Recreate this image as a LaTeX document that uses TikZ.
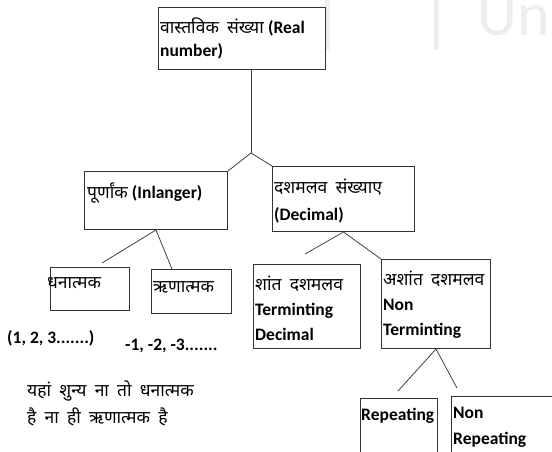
\documentclass[tikz,border=0pt]{standalone}
\usepackage{fontspec}
\setmainfont{Carlito}
\newfontfamily\hin[Script=Devanagari,WordSpace=1.8]{Noto Sans}
\usepackage{tikz}

\begin{document}
\begin{tikzpicture}[x=1pt,y=-1pt,
        box/.style={draw=black!80,line width=1pt,anchor=north west,inner sep=0pt},
        lbl/.style={anchor=base west,inner sep=0pt,align=left,font=\fontsize{17.5}{24}\selectfont},
        link/.style={draw=black!75,line width=0.8pt}]
        \useasboundingbox (0,0) rectangle (552,452);
        % faint mark in the corner
        \draw (328,-12) node(wm1)[anchor=north,text=black!7,font=\fontsize{66}{66}\selectfont]{|};
        \draw (437,-12) node(wm2)[anchor=north,text=black!7,font=\fontsize{66}{66}\selectfont]{|};
        \draw (474,-8) node(wm3)[anchor=north west,text=black!7,font=\fontsize{62}{62}\selectfont]{Un};
        % boxes
        \draw (158,7) node(real)[box,minimum width=167pt,minimum height=62pt]{};
        \draw (84,171) node(int)[box,minimum width=143pt,minimum height=58pt]{};
        \draw (272,166) node(dec)[box,minimum width=142pt,minimum height=65pt]{};
        \draw (50,267) node(pos)[box,minimum width=79pt,minimum height=43pt]{};
        \draw (151,269) node(neg)[box,minimum width=80pt,minimum height=44pt]{};
        \draw (253,264) node(term)[box,minimum width=107pt,minimum height=84pt]{};
        \draw (381,259) node(nterm)[box,minimum width=109pt,minimum height=89pt]{};
        \draw (360,398) node(rep)[box,minimum width=77pt,minimum height=56pt]{};
        \draw (451,396) node(nrep)[box,minimum width=103pt,minimum height=58pt]{};
        % texts (anchored at the last line)
        \draw (160,57) node(t1)[lbl]{{\hin वास्तविक संख्या} \textbf{(Real}\\\textbf{number)}};
        \draw (87,198) node(t2)[lbl]{{\hin पूर्णांक} \textbf{(Inlanger)}};
        \draw (274,220) node(t3)[lbl,font=\fontsize{17.5}{27}\selectfont]{{\hin दशमलव संख्याए}\\\textbf{(Decimal)}};
        \draw (47,288) node(t4)[lbl]{\hin धनात्मक};
        \draw (153,292) node(t5)[lbl]{\hin ऋणात्मक};
        \draw (255,340) node(t6)[lbl,font=\fontsize{17.5}{25}\selectfont]{{\hin शांत दशमलव}\\\textbf{Terminting}\\\textbf{Decimal}};
        \draw (383,335) node(t7)[lbl,font=\fontsize{17.5}{25}\selectfont]{{\hin अशांत दशमलव}\\\textbf{Non}\\\textbf{Terminting}};
        \draw (361,420) node(t8)[lbl]{\textbf{Repeating}};
        \draw (453,444) node(t9)[lbl,font=\fontsize{17.5}{26}\selectfont]{\textbf{Non}\\\textbf{Repeating}};
        \draw (7,343) node(t10)[lbl]{\textbf{(1, 2, 3.......)}};
        \draw (125,350) node(t11)[lbl]{\textbf{-1, -2, -3.......}};
        \draw (27,423) node(t12)[lbl,font=\fontsize{17.5}{27}\selectfont]{\hin यहां शुन्य ना तो धनात्मक\\\hin है ना ही ऋणात्मक है};
        % joints
        \coordinate (j1) at (251,153);
        \coordinate (f1) at (102,263);
        \coordinate (f2) at (305,254);
        \coordinate (f3) at (398,391);
        \coordinate (f4) at (457,388);
        \draw[link] (real.south -| j1) -- (j1);
        \draw[link] (j1) -- (int.north east);
        \draw[link] (j1) -- (dec.north west);
        \draw[link] (int.south) -- (f1);
        \draw[link] (int.south) -- (172,269);
        \draw[link] (dec.south) -- (f2);
        \draw[link] (dec.south) -- (nterm.north west);
        \draw[link] (nterm.south) -- (f3);
        \draw[link] (nterm.south) -- (f4);
    \end{tikzpicture}
\end{document}
